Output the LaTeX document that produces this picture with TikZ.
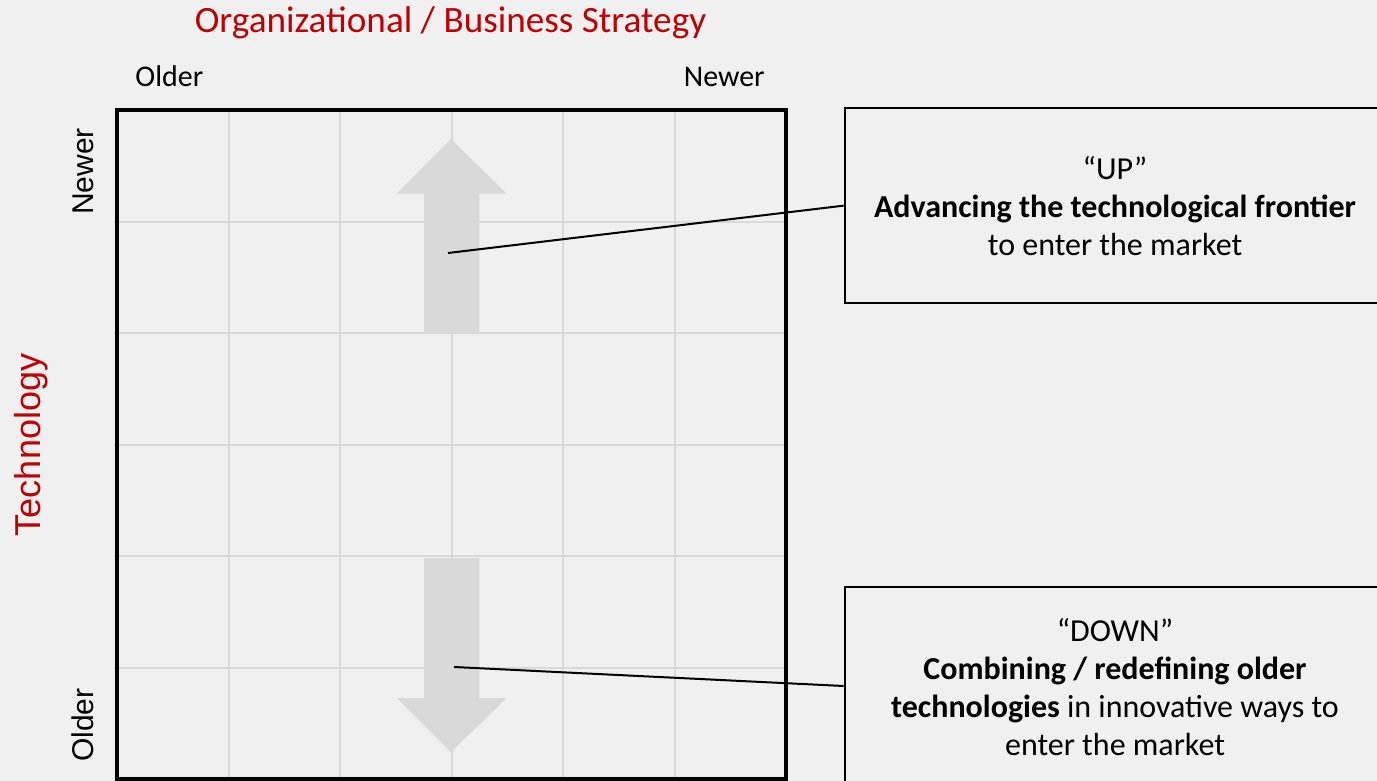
\documentclass[tikz,border=0pt]{standalone}
\usepackage{fontspec}
\setmainfont{Carlito}
\newfontfamily\arialf{Liberation Sans}
\definecolor{bg}{HTML}{F0F0F0}
\definecolor{gridgray}{HTML}{D9D9D9}
\definecolor{arrowgray}{HTML}{D9D9D9}
\definecolor{titlered}{HTML}{C00000}
\begin{document}
\begin{tikzpicture}[x=0.5pt,y=-0.5pt,
  gridline/.style={draw=gridgray,line width=1pt},
  frameline/.style={draw=black,line width=1.8pt},
  bigarrow/.style={fill=arrowgray},
  callout/.style={draw=black,line width=1pt,inner sep=0pt,fill=bg},
  leader/.style={draw=black,line width=1pt},
  boxtext/.style={font=\fontsize{16pt}{19pt}\selectfont,anchor=base,inner sep=0pt},
  axislabel/.style={font=\fontsize{15pt}{18pt}\selectfont,inner sep=0pt},
  vlabel/.style={font=\arialf\fontsize{15pt}{18pt}\selectfont,rotate=90,anchor=base,inner sep=0pt},
  redtitle/.style={text=titlered,inner sep=0pt,anchor=base}]
\useasboundingbox (0,0) rectangle (1377,781);
\clip (0,0) rectangle (1377,781);
\fill[bg] (0,0) rectangle (1377,781);

% grid
\foreach \i in {1,...,5} {
  \draw[gridline] ({117+\i*111.5},110) -- ({117+\i*111.5},779);
  \draw[gridline] (114,{110+\i*111.5}) -- (786,{110+\i*111.5});
}

% arrows
\fill[bigarrow] (451,139) -- (506.7,193.7) -- (479.3,193.7) -- (479.3,334) -- (424,334) -- (424,193.7) -- (396.7,193.7) -- cycle;
\fill[bigarrow] (451,752) -- (506.7,698) -- (479.3,698) -- (479.3,558) -- (424,558) -- (424,698) -- (396.7,698) -- cycle;

% frame
\draw[frameline] (117,110) rectangle (786,779);

% titles and axis labels
\node[redtitle,font=\fontsize{18.6pt}{22pt}\selectfont] (title) at (450.5,33) {Organizational / Business Strategy};
\node[axislabel,anchor=base west] (xold) at (135,87) {Older};
\node[axislabel,anchor=base east] (xnew) at (765,87) {Newer};
\node[vlabel] (ynew) at (93.3,171.5) {Newer};
\node[vlabel] (yold) at (93.3,725) {Older};
\node[vlabel,text=titlered,font=\arialf\fontsize{18pt}{21pt}\selectfont] (ytech) at (40,445) {Technology};

% callout boxes
\node[callout,minimum width=270.2pt,minimum height=97.65pt] (upbox) at ({(844.7+1385)/2},{(108+303.3)/2}) {};
\node[callout,minimum width=270.2pt,minimum height=98.7pt] (downbox) at ({(844.7+1385)/2},{(587.3+784.7)/2}) {};

\node[boxtext] (up1) at (1115,180) {“UP”};
\node[boxtext] (up2) at (1115,217.5) {\textbf{Advancing the technological frontier}};
\node[boxtext] (up3) at (1115,255.5) {to enter the market};

\node[boxtext] (dn1) at (1115,641) {“DOWN”};
\node[boxtext] (dn2) at (1115,679) {\textbf{Combining / redefining older}};
\node[boxtext] (dn3) at (1115,717) {\textbf{technologies} in innovative ways to};
\node[boxtext] (dn4) at (1115,755) {enter the market};

% leaders
\coordinate (upstart) at (448,253);
\coordinate (downstart) at (454,667);
\draw[leader] (upstart) -- (upbox.west);
\draw[leader] (downstart) -- (downbox.west);
\end{tikzpicture}
\end{document}
